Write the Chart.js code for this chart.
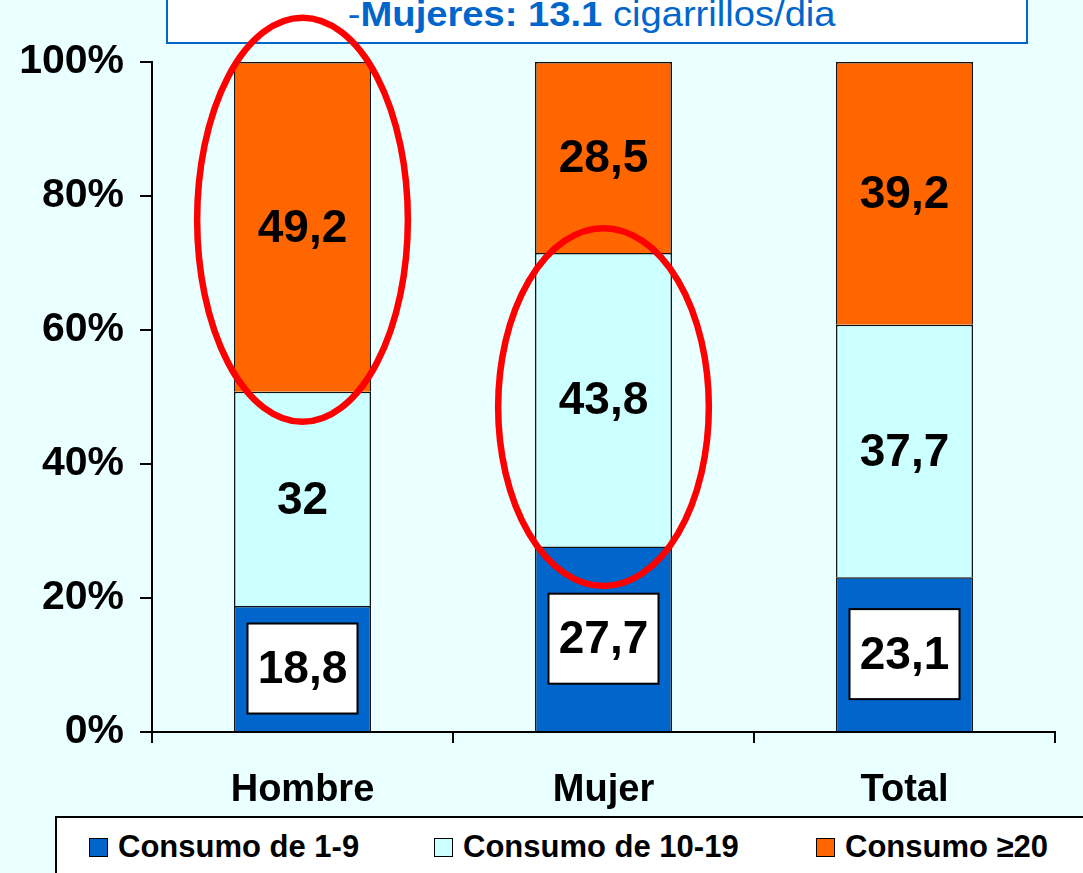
<!DOCTYPE html>
<html>
<head>
<meta charset="utf-8">
<script src="https://cdn.jsdelivr.net/npm/chart.js@4"></script>
<style>
  html, body { margin:0; padding:0; background:#EAFFFF; overflow:hidden; }
  #wrap { position:relative; width:1083px; height:873px; }
  #titlebox { position:absolute; left:166px; top:-20px; width:858px; height:60px; background:#fff;
    border:2px solid #0066CC; z-index:0; }
  #titletext { position:absolute; left:166px; width:851px; top:-6px; text-align:center; color:#0066CC;
    font-family:"Liberation Sans", Arial, sans-serif; font-size:35px; white-space:nowrap; z-index:0; }
  #titletext span.inner { display:inline-block; transform:scaleX(1.09); transform-origin:center; }
  canvas { position:absolute; left:0; top:0; z-index:1; }
  #legend { position:absolute; left:55px; top:816px; width:1060px; height:80px; background:#fff;
    border:2px solid #000; z-index:2; font-family:"Liberation Sans", Arial, sans-serif; }
  .item { position:absolute; top:17px; height:24px; display:flex; align-items:center; }
  .sw { width:17px; height:17px; border:1.5px solid #000; margin-right:10px; }
  .lt { font-weight:bold; font-size:31px; color:#000; line-height:24px; }
</style>
</head>
<body>
<div id="wrap">
  <div id="titlebox"></div>
  <div id="titletext"><span class="inner">-<b>Mujeres: 13.1</b> cigarrillos/dia</span></div>
  <canvas id="c" width="1083" height="873"></canvas>
  <div id="legend"></div>
</div>
<script>
const categories = ["Hombre", "Mujer", "Total"];
const seriesNames = ["Consumo de 1-9", "Consumo de 10-19", "Consumo \u226520"];
const consumo1a9 = [18.8, 27.7, 23.1];
const consumo10a19 = [32, 43.8, 37.7];
const consumo20 = [49.2, 28.5, 39.2];
const yTicks = [0, 20, 40, 60, 80, 100];
const seriesColors = ["#0066CC", "#CCFFFF", "#FF6600"];
// highlight ellipses: category, top value, bottom value
const highlights = [
  { category: "Hombre", top: 106.6, bottom: 46.3 },
  { category: "Mujer", top: 75.2, bottom: 21.8 }
];

const fontFam = '"Liberation Sans", Arial, sans-serif';

const labelPlugin = {
  id: 'labels',
  afterDatasetsDraw(chart) {
    const ctx = chart.ctx;
    ctx.save();
    chart.data.datasets.forEach((ds, di) => {
      const meta = chart.getDatasetMeta(di);
      meta.data.forEach((bar, i) => {
        const v = ds.data[i];
        const txt = String(v).replace('.', ',');
        const cx = bar.x;
        const cy = (bar.y + bar.base) / 2;
        ctx.font = 'bold 46px ' + fontFam;
        if (di === 0) {
          const w = 110, h = 90;
          ctx.fillStyle = '#fff';
          ctx.fillRect(cx - w/2, cy - h/2, w, h);
          ctx.lineWidth = 2;
          ctx.strokeStyle = '#000';
          ctx.strokeRect(cx - w/2, cy - h/2, w, h);
        }
        ctx.fillStyle = '#000';
        ctx.textAlign = 'center';
        ctx.textBaseline = 'middle';
        ctx.fillText(txt, cx, cy + 2);
      });
    });
    ctx.restore();
  },
  afterDraw(chart) {
    const ctx = chart.ctx;
    const xs = chart.scales.x, ys = chart.scales.y;
    const catW = xs.getPixelForValue(1) - xs.getPixelForValue(0);
    ctx.save();
    ctx.strokeStyle = '#FF0000';
    ctx.lineWidth = 6.5;
    highlights.forEach(h => {
      const idx = categories.indexOf(h.category);
      const cx = xs.getPixelForValue(idx);
      const yt = ys.getPixelForValue(h.top), yb = ys.getPixelForValue(h.bottom);
      ctx.beginPath();
      ctx.ellipse(cx, (yt + yb) / 2, catW * 0.35, (yb - yt) / 2, 0, 0, Math.PI * 2);
      ctx.stroke();
    });
    ctx.restore();
  }
};

new Chart(document.getElementById('c'), {
  type: 'bar',
  data: {
    labels: categories,
    datasets: [
      { label: seriesNames[0], data: consumo1a9, backgroundColor: seriesColors[0] },
      { label: seriesNames[1], data: consumo10a19, backgroundColor: seriesColors[1] },
      { label: seriesNames[2], data: consumo20, backgroundColor: seriesColors[2] }
    ].map(d => Object.assign(d, { borderColor: '#111', borderWidth: 1.5, categoryPercentage: 1, barPercentage: 0.455 }))
  },
  options: {
    responsive: false,
    animation: false,
    layout: { padding: { left: 0, right: 28, top: 62, bottom: 0 } },
    plugins: { legend: { display: false }, tooltip: { enabled: false } },
    scales: {
      x: {
        stacked: true,
        grid: { display: true, drawOnChartArea: false, drawTicks: true, tickLength: 11, color: '#000', lineWidth: 2, offset: true },
        border: { display: true, color: '#000', width: 2 },
        ticks: { color: '#000', font: { family: fontFam, size: 38, weight: 'bold' }, padding: 25 },
        afterFit(s) { s.height = 141; }
      },
      y: {
        stacked: true, min: 0, max: 100,
        afterBuildTicks(s) { s.ticks = yTicks.map(v => ({ value: v })); },
        grid: { display: true, drawOnChartArea: false, drawTicks: true, tickLength: 12, color: '#000', lineWidth: 2 },
        border: { display: true, color: '#000', width: 2 },
        ticks: { color: '#000', font: { family: fontFam, size: 41, weight: 'bold' }, padding: 16,
          callback: v => v + '%' },
        afterFit(s) { s.width = 152; }
      }
    }
  },
  plugins: [labelPlugin]
});

const leg = document.getElementById('legend');
const legPos = [32, 377, 759];
seriesNames.forEach((n, i) => {
  const it = document.createElement('div');
  it.className = 'item';
  it.style.left = legPos[i] + 'px';
  const sw = document.createElement('div');
  sw.className = 'sw';
  sw.style.background = seriesColors[i];
  const t = document.createElement('span');
  t.className = 'lt';
  t.textContent = n;
  it.appendChild(sw); it.appendChild(t);
  leg.appendChild(it);
});
</script>
</body>
</html>
